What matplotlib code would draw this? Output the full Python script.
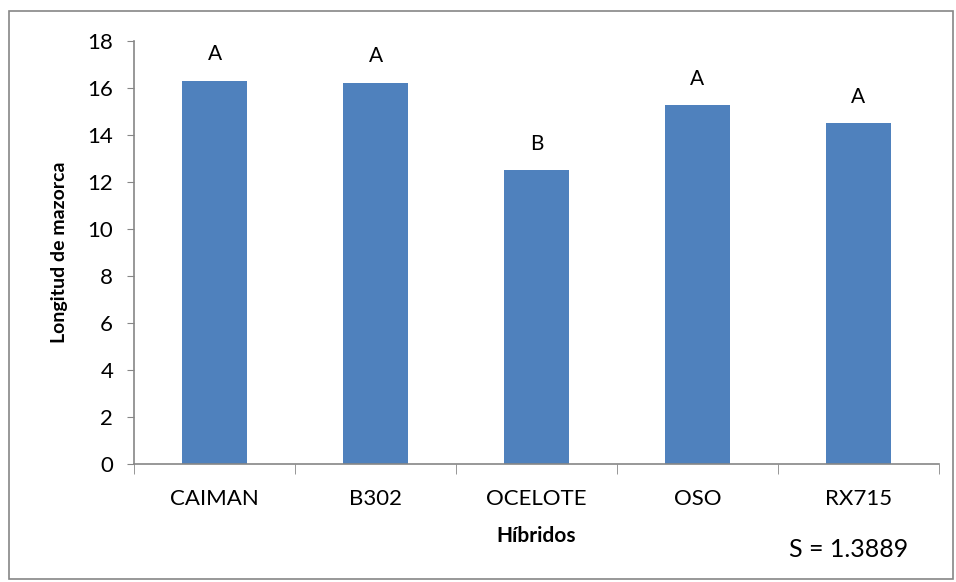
import matplotlib.pyplot as plt
from matplotlib.patches import Rectangle
import numpy as np

hibridos = ['CAIMAN', 'B302', 'OCELOTE', 'OSO', 'RX715']
longitud = [16.3, 16.22, 12.5, 15.27, 14.5]
letras = ['A', 'A', 'B', 'A', 'A']
s_valor = 'S = 1.3889'

plt.rcParams['font.family'] = ['Lato', 'DejaVu Sans']
gris = '#868686'
azul = '#4f81bd'

fig = plt.figure(figsize=(9.56, 5.82), dpi=100)
ax = fig.add_axes([0.1402, 0.2027, 0.842, 0.7268])

x = np.arange(len(hibridos))
barras = ax.bar(x, longitud, width=0.4, color=azul)

for b, l in zip(barras, letras):
    ax.annotate(l, (b.get_x() + b.get_width() / 2, b.get_height()),
                xytext=(0, 12), textcoords='offset points',
                ha='center', va='bottom', fontsize=15)

ax.set_xlim(-0.5, len(hibridos) - 0.5)
ax.set_ylim(0, 18)
ax.set_yticks(range(0, 19, 2))
ax.set_xticks(x)
ax.set_xticklabels(hibridos, fontsize=16)
ax.set_xticks(np.arange(-0.5, len(hibridos), 1), minor=True)
ax.tick_params(axis='y', labelsize=16, length=5, color=gris, pad=10)
ax.tick_params(axis='x', which='major', length=0, pad=18)
ax.tick_params(axis='x', which='minor', length=7, color=gris)

for s in ['top', 'right']:
    ax.spines[s].set_visible(False)
for s in ['left', 'bottom']:
    ax.spines[s].set_color(gris)
    ax.spines[s].set_linewidth(1.2)

ax.set_ylabel('Longitud de mazorca', fontsize=14, fontweight='bold', labelpad=14)
ax.set_xlabel('Híbridos', fontsize=15, fontweight='bold', labelpad=12)

fig.text(0.888, 0.055, s_valor, fontsize=18, ha='center', va='center')

fig.patches.append(Rectangle((0.0095, 0.006), 0.987, 0.975, transform=fig.transFigure,
                             fill=False, edgecolor=gris, linewidth=1.2))

fig.savefig('out.png', dpi=100)
